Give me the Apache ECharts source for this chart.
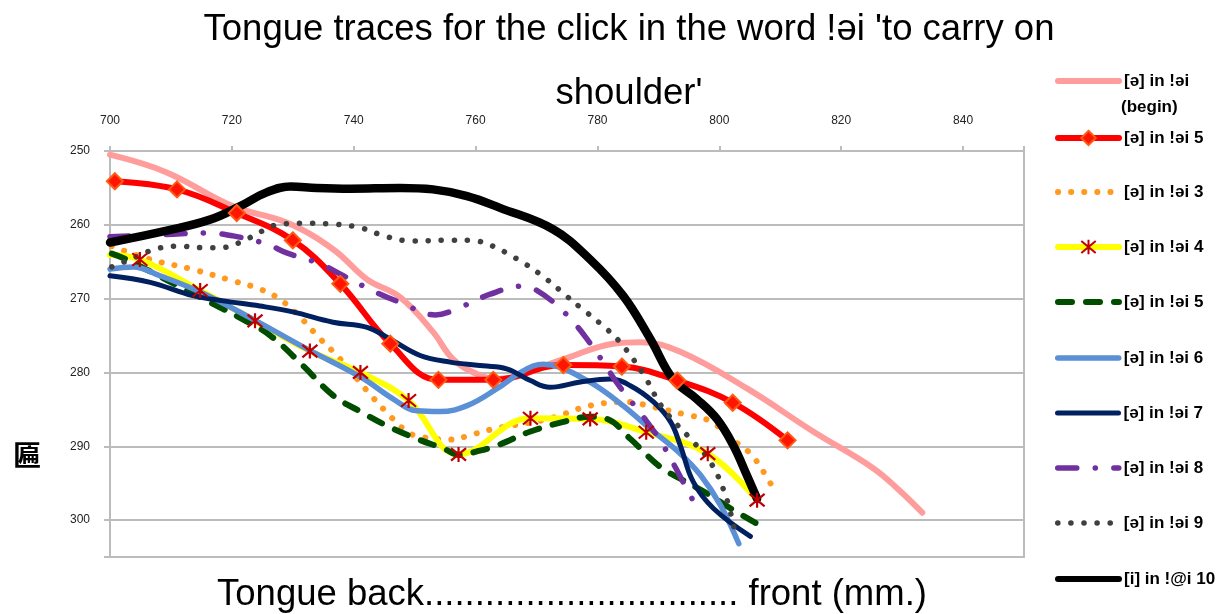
<!DOCTYPE html>
<html>
<head>
<meta charset="utf-8">
<title>Tongue traces</title>
<script src="https://cdn.jsdelivr.net/npm/echarts@6.0.0/dist/echarts.min.js"></script>
<style>
html, body { margin: 0; padding: 0; background: #fff; }
#chart { width: 1227px; height: 614px; }
</style>
</head>
<body>
<div id="chart"></div>
<script>
// axis ranges (x = back..front, y = height, inverted)
const xMin = 700, xMax = 850, xStep = 20;
const yMin = 250, yMax = 305, yStep = 10;

// [x, y] points, one array per trace
const schwaBegin = [[700,250.5],[709.3,252.9],[720.2,257.5],[729,259.7],[736.6,263.3],[742.2,267.4],[747.6,269.8],[753,274.5],[756.3,278.2],[760.2,280.2],[763.5,280.9],[774.4,278.2],[782.6,276.1],[787,275.9],[793.6,277.2],[804.6,282.2],[815.4,288],[825.3,293],[829.7,296.1],[833.3,299]];
const schwa5a = [[700.8,254.1],[711,255.2],[720.8,258.4],[730,262.1],[737.8,268],[746,276.1],[753.9,281],[762.9,281],[774.4,279],[784,279.2],[793.1,281.1],[802.2,284.1],[811.2,289.2]];
const schwa3 = [[700.3,262.9],[706.6,264.7],[713.4,266],[720.2,267.6],[724.6,268.7],[727.9,270.1],[731.2,272.5],[734.2,275.2],[737.8,278.2],[742.2,282.5],[745.4,285.4],[748.7,288],[750.9,288.7],[755.6,289.1],[759.9,288.3],[763.2,287.6],[771.9,286.3],[778.8,284.5],[784.8,284],[789.2,284.7],[794.4,285.7],[798.5,286.6],[802.3,289.2],[805.1,291],[807.6,293.9],[808.7,295.5]];
const schwa4 = [[700,264.1],[704.9,264.7],[714.8,268.9],[723.8,273],[732.8,277.1],[741.1,280],[749,283.8],[757.2,291.1],[769,286.2],[778.8,286.3],[788,288.1],[798.1,291],[806.2,297.3]];
const schwa5b = [[700.3,263.9],[702.7,264.7],[716.9,270.7],[721.8,272.8],[726.3,275],[731.7,279.1],[736.6,283.1],[741.1,285.3],[745.4,287.2],[750.4,289],[754.7,290.3],[757.5,291.2],[760.2,290.7],[763.5,289.9],[769,288],[774.4,286.7],[778.8,286],[781.6,286.3],[785.4,289],[790.3,292.8],[793.6,294.4],[798,296.4],[801.8,298.4],[806.2,300.5]];
const schwa6 = [[700,266],[703.8,265.7],[708.2,266.9],[714.8,269.1],[723.5,272.8],[732.3,276.8],[741.1,280.6],[746.5,283.6],[750.4,285.2],[754.2,285.3],[758.6,284.5],[763.5,282.2],[767.8,279.8],[771.1,278.9],[773.9,279.3],[777.2,280.6],[780.5,282.2],[784.2,284.5],[789.2,288],[793.6,291],[796.9,293.9],[800.2,298],[803.2,303.2]];
const schwa7 = [[700,266.9],[706.6,267.8],[713.6,269.6],[718.6,270.3],[724.6,271],[730,271.8],[736.6,273.2],[742.2,273.9],[746,275.5],[750.9,277.7],[755.8,278.6],[761.2,279.1],[765.1,279.5],[769,281.1],[772.2,282],[777.2,281.3],[782.1,280.9],[785.4,281.8],[789.2,284],[792,286.7],[793.6,289.9],[795.7,294.8],[799,298.4],[805.1,302.2]];
const schwa8 = [[700,261.6],[709.3,261.3],[715.9,261.1],[720.2,261.5],[725.7,262.6],[729,263.8],[734.5,265.3],[738.3,266.9],[743.8,269.2],[747.6,270.5],[753.4,272.2],[756.3,271.6],[762.4,269.4],[767.8,268.3],[770.1,268.9],[773.6,271.1],[776.6,273.7],[778.3,275.5],[780.7,278.3],[783.7,282],[787.8,286.3],[790.8,289.9],[793.9,294.6],[796.1,298]];
const schwa9 = [[700.3,265.7],[703.3,264.7],[707.4,263.3],[711.2,262.9],[715.6,263.1],[718.1,263.1],[721.3,262.4],[725.1,260.8],[727.9,259.9],[732.3,259.8],[736.6,259.9],[741.1,260.4],[745.4,261.6],[749.8,262.2],[754.7,262.1],[759.1,262.1],[763.5,263.1],[765.4,264],[767.8,265.1],[771.7,267.4],[775,269.7],[777.2,271.2],[780.5,273.4],[783.7,275.9],[787.5,280.2],[790.8,284.9],[795.5,289.2],[798.5,292.1],[801,296.6],[802.6,301.8]];
const iTrace10 = [[700,262.4],[709.3,260.8],[716.4,259.3],[721.3,257.5],[725.7,255.6],[729.6,254.8],[733.9,255],[739.4,255.1],[747.6,255],[753,255.2],[758.6,256.1],[764,257.7],[772.7,260.6],[778.8,264.7],[784.2,269.6],[788.7,275.5],[792.4,280.9],[796.3,283.6],[799.6,286.3],[802.3,289.9],[804.5,293.9],[806.2,297.1]];

const font = 'Liberation Sans, Arial, sans-serif';
const gridGray = '#bcbcbc';
const asterisk = 'path://M0,0L20,20M0,20L20,0M10,-2L10,22';

function trace(name, data, color, width, dash, extra) {
  return Object.assign({
    name: name,
    type: 'line',
    data: data,
    smooth: 0.4,
    symbol: 'none',
    itemStyle: { color: color },
    lineStyle: { color: color, width: width, type: dash || 'solid', cap: 'round', join: 'round' },
    emphasis: { disabled: true }
  }, extra || {});
}

const seriesList = [
  trace('[ə] in !əi (begin)', schwaBegin, '#ff9c9c', 6),
  trace('[ə] in !əi 5', schwa5a, '#ff0000', 6, 'solid', {
    symbol: 'diamond', symbolSize: 16, showAllSymbol: true,
    itemStyle: { color: '#ff1500', borderColor: '#ff5a14', borderWidth: 2 }
  }),
  trace('[ə] in !əi 3', schwa3, '#ff9a1f', 6, [0.1, 13]),
  trace('[ə] in !əi 4', schwa4.map((p, i) => i === 0 ? { value: p, symbol: 'none' } : p), '#ffff00', 6, 'solid', {
    symbol: asterisk, symbolSize: 15, showAllSymbol: true,
    itemStyle: { color: '#c00000', borderColor: '#c00000', borderWidth: 2.2 }
  }),
  trace('[ə] in !əi 5 ', schwa5b, '#004d00', 6, [14, 14]),
  trace('[ə] in !əi 6', schwa6, '#5b8fd6', 5.5),
  trace('[ə] in !əi 7', schwa7, '#00205f', 5),
  trace('[ə] in !əi 8', schwa8, '#7030a0', 5.5, [19, 18.5, 0.1, 18.5]),
  trace('[ə] in !əi 9', schwa9, '#404040', 5.5, [0.1, 13]),
  trace('[i] in !@i 10', iTrace10, '#000000', 8.5)
];

// one legend block per entry so rows sit where the original puts them
const legendRowY = [81, 138, 192, 247, 302, 358, 413, 468, 523, 579];
const legends = seriesList.map((s, i) => ({
  data: [s.name],
  left: 1055,
  top: legendRowY[i] - 9,
  padding: 0,
  itemWidth: 61,
  itemHeight: 18,
  itemGap: 0,
  selectedMode: false,
  formatter: n => n.replace(' (begin)', ''),
  lineStyle: { width: Math.min(s.lineStyle.width, 6), type: s.lineStyle.type, cap: 'round', color: s.lineStyle.color },
  itemStyle: s.symbol === 'none' ? { opacity: 0 } : {},
  textStyle: { fontFamily: font, fontWeight: 'bold', fontSize: 17, color: '#000', lineHeight: 18 }
}));

const chart = echarts.init(document.getElementById('chart'));
chart.setOption({
  animation: false,
  backgroundColor: '#fff',
  grid: { left: 110, top: 151, width: 914, height: 406, show: true, borderColor: gridGray, borderWidth: 2 },
  legend: legends,
  xAxis: {
    type: 'value', position: 'top', min: xMin, max: xMax, interval: xStep,
    axisLine: { show: true, lineStyle: { color: gridGray, width: 2 } },
    axisTick: { show: true, length: 5, lineStyle: { color: gridGray, width: 2 } },
    axisLabel: { margin: 24, fontFamily: font, fontSize: 12, color: '#222', formatter: v => v % xStep === 0 ? v : '' },
    splitLine: { show: false }
  },
  yAxis: {
    type: 'value', inverse: true, min: yMin, max: yMax, interval: yStep,
    axisLine: { show: true, lineStyle: { color: gridGray, width: 2 } },
    axisTick: { show: true, length: 6, lineStyle: { color: gridGray, width: 2 } },
    axisLabel: { margin: 20, fontFamily: font, fontSize: 12, color: '#222', formatter: v => v % yStep === 0 ? v : '' },
    splitLine: { show: true, lineStyle: { color: gridGray, width: 2 } }
  },
  graphic: [
    { type: 'text', x: 629, y: 62, style: {
        text: "Tongue traces for the click in the word !əi 'to carry on\nshoulder'",
        font: '36.5px ' + font, fill: '#000', align: 'center', verticalAlign: 'middle', lineHeight: 64 } },
    { type: 'text', x: 572, y: 595, style: {
        text: 'Tongue back............................... front (mm.)',
        font: '36.5px ' + font, fill: '#000', align: 'center', verticalAlign: 'middle' } },
    { type: 'text', x: 1121, y: 107, style: {
        text: '(begin)', font: 'bold 17px ' + font, fill: '#000', verticalAlign: 'middle' } },
    { type: 'text', x: 27, y: 455, style: {
        text: '匾', font: 'bold 28px Noto Sans CJK SC', fill: '#000', align: 'center', verticalAlign: 'middle' } }
  ],
  series: seriesList
});
</script>
</body>
</html>
